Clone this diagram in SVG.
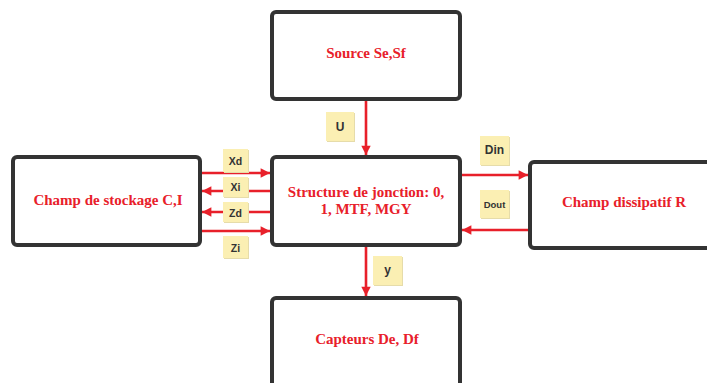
<svg xmlns="http://www.w3.org/2000/svg" width="707" height="383" viewBox="0 0 707 383">
  <style>
    .box { fill: #ffffff; stroke: #333333; stroke-width: 4; }
    .title { font-family: "Liberation Serif", "Times New Roman", serif; font-weight: bold; font-size: 15px; fill: #e8202a; text-anchor: middle; }
    .wire { stroke: #e8202a; stroke-width: 2.6; fill: none; }
    .tag { fill: #fbefb3; }
    .tag-shadow { fill: #e6dcaa; }
    .tagtext { font-family: "Liberation Sans", Arial, sans-serif; font-weight: bold; font-size: 12px; fill: #333333; text-anchor: middle; }
  </style>
  <defs>
    <marker id="head" viewBox="0 0 10 10" refX="10" refY="5" markerWidth="4.6" markerHeight="3.6" markerUnits="strokeWidth" orient="auto">
      <path d="M0,0 L10,5 L0,10 z" fill="#e8202a"/>
    </marker>
  </defs>

  <rect width="707" height="383" fill="#ffffff"/>

  <!-- blocks -->
  <g id="source">
    <rect class="box" x="272" y="12" width="188" height="87" rx="4"/>
    <text class="title" x="366" y="58">Source Se,Sf</text>
  </g>
  <g id="structure">
    <rect class="box" x="272" y="157" width="188" height="88" rx="4"/>
    <text class="title" x="366" y="197">Structure de jonction: 0,</text>
    <text class="title" x="366" y="214">1, MTF, MGY</text>
  </g>
  <g id="stockage">
    <rect class="box" x="13" y="157" width="187" height="88" rx="4"/>
    <text class="title" x="108" y="205">Champ de stockage C,I</text>
  </g>
  <g id="dissipatif">
    <rect class="box" x="530" y="162" width="190" height="86" rx="4"/>
    <text class="title" x="624" y="207">Champ dissipatif R</text>
  </g>
  <g id="capteurs">
    <rect class="box" x="272" y="298" width="188" height="110" rx="4"/>
    <text class="title" x="367" y="344">Capteurs De, Df</text>
  </g>

  <!-- bond arrows -->
  <g id="connectors">
    <line class="wire" x1="366" y1="101" x2="366" y2="155" marker-end="url(#head)"/>
    <line class="wire" x1="366" y1="247" x2="366" y2="296" marker-end="url(#head)"/>
    <line class="wire" x1="462" y1="175" x2="528" y2="175" marker-end="url(#head)"/>
    <line class="wire" x1="528" y1="230" x2="462" y2="230" marker-end="url(#head)"/>
    <line class="wire" x1="202" y1="173" x2="270" y2="173" marker-end="url(#head)"/>
    <line class="wire" x1="270" y1="191" x2="202" y2="191" marker-end="url(#head)"/>
    <line class="wire" x1="270" y1="212" x2="202" y2="212" marker-end="url(#head)"/>
    <line class="wire" x1="202" y1="231" x2="270" y2="231" marker-end="url(#head)"/>
  </g>

  <!-- variable tags -->
  <g id="tag-u">
    <rect class="tag-shadow" x="327" y="113" width="28" height="29"/>
    <rect class="tag" x="326" y="112" width="28" height="29"/>
    <text class="tagtext" x="340" y="131">U</text>
  </g>
  <g id="tag-din">
    <rect class="tag-shadow" x="481" y="137" width="29" height="29"/>
    <rect class="tag" x="480" y="136" width="29" height="29"/>
    <text class="tagtext" x="494.5" y="154">Din</text>
  </g>
  <g id="tag-dout">
    <rect class="tag-shadow" x="481" y="191" width="29" height="28"/>
    <rect class="tag" x="480" y="190" width="29" height="28"/>
    <text class="tagtext" x="494.5" y="207.5" style="font-size:9.5px">Dout</text>
  </g>
  <g id="tag-y">
    <rect class="tag-shadow" x="374" y="257" width="29" height="29"/>
    <rect class="tag" x="373" y="256" width="29" height="29"/>
    <text class="tagtext" x="387.5" y="274">y</text>
  </g>
  <g id="tag-xd">
    <rect class="tag-shadow" x="224" y="150" width="25" height="23"/>
    <rect class="tag" x="223" y="149" width="25" height="23"/>
    <text class="tagtext" x="235.5" y="164.5" style="font-size:10.5px">Xd</text>
  </g>
  <g id="tag-xi">
    <rect class="tag-shadow" x="224" y="178" width="25" height="20"/>
    <rect class="tag" x="223" y="177" width="25" height="20"/>
    <text class="tagtext" x="235.5" y="190.5" style="font-size:10.5px">Xi</text>
  </g>
  <g id="tag-zd">
    <rect class="tag-shadow" x="224" y="203" width="25" height="20"/>
    <rect class="tag" x="223" y="202" width="25" height="20"/>
    <text class="tagtext" x="235.5" y="216.5" style="font-size:10.5px">Zd</text>
  </g>
  <g id="tag-zi">
    <rect class="tag-shadow" x="224" y="237" width="25" height="22"/>
    <rect class="tag" x="223" y="236" width="25" height="22"/>
    <text class="tagtext" x="235.5" y="251.5" style="font-size:10.5px">Zi</text>
  </g>
</svg>
